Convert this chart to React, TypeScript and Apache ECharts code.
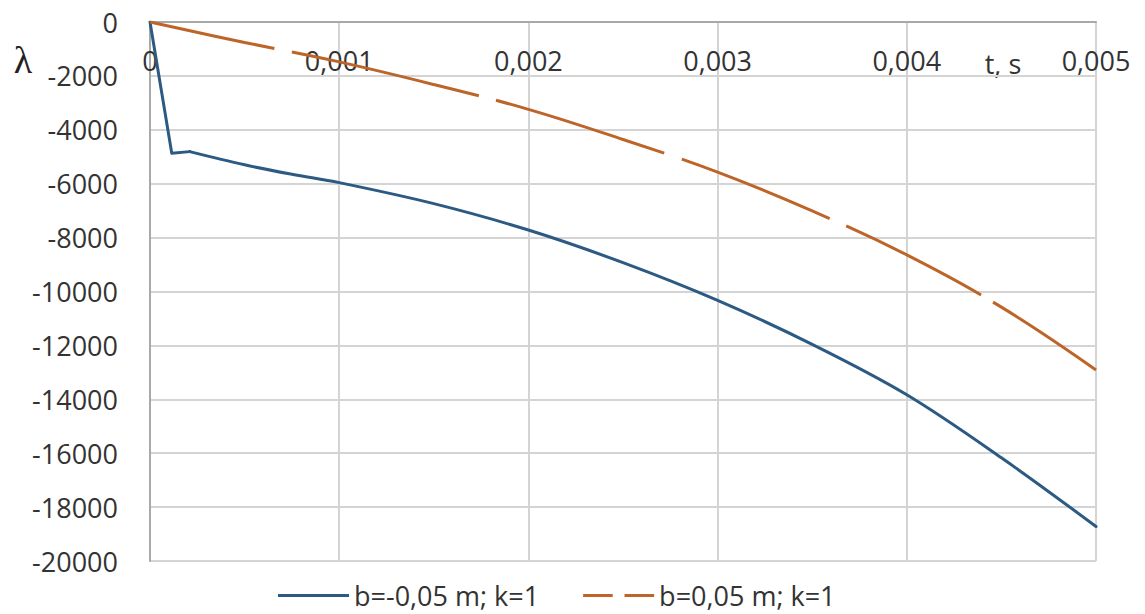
import React, { useEffect, useRef } from "react";
import * as echarts from "echarts";

const xTickLabels = ["0", "0,001", "0,002", "0,003", "0,004", "0,005"];
const seriesNames = ["b=-0,05 m; k=1", "b=0,05 m; k=1"];

const blueT = [0, 0.000115, 0.00021, 0.0005, 0.00075, 0.001, 0.0015, 0.002, 0.0025, 0.003, 0.0035, 0.004, 0.0045, 0.005];
const blueL = [0, -4870, -4810, -5300, -5650, -5960, -6740, -7720, -8930, -10330, -11960, -13830, -16170, -18720];
// the initial steep drop is drawn straight; the remainder is smoothed
const blueKinkIndex = 2;

const orangeT = [0, 0.0005, 0.001, 0.0015, 0.002, 0.0025, 0.003, 0.0035, 0.004, 0.0045, 0.005];
const orangeL = [0, -760, -1480, -2320, -3240, -4360, -5570, -7010, -8640, -10580, -12910];

const BLUE = "#2c5a83";
const ORANGE = "#bd6529";
const FONT = "'Open Sans', 'Liberation Sans', sans-serif";

export default function App() {
  const ref = useRef<HTMLDivElement>(null);
  useEffect(() => {
    document.body.style.margin = "0";
    const chart = echarts.init(ref.current!, null, { renderer: "svg" });
    const blueData = blueT.map((t, i) => [t, blueL[i]]);
    chart.setOption({
      animation: false,
      backgroundColor: "#ffffff",
      grid: { left: 150, right: 49, top: 22, bottom: 53, containLabel: false },
      xAxis: {
        type: "value",
        position: "top",
        min: 0,
        max: 0.005,
        interval: 0.001,
        axisLine: { show: true, lineStyle: { color: "#a9a9a9", width: 2 } },
        axisTick: { show: false },
        axisLabel: {
          inside: true,
          margin: 25,
          fontSize: 27,
          fontFamily: FONT,
          color: "#333333",
          formatter: (v: number) => xTickLabels[Math.round(v / 0.001)] ?? "",
        },
        splitLine: { show: true, lineStyle: { color: "#d4d4d4", width: 2 } },
      },
      yAxis: {
        type: "value",
        min: -20000,
        max: 0,
        interval: 2000,
        axisLine: { show: true, onZero: false, lineStyle: { color: "#a9a9a9", width: 2 } },
        axisTick: { show: false },
        axisLabel: {
          margin: 32,
          fontSize: 27,
          fontFamily: FONT,
          color: "#333333",
          formatter: (v: number) => String(v),
        },
        splitLine: { show: true, lineStyle: { color: "#d4d4d4", width: 2 } },
      },
      legend: {
        left: 273,
        top: 577,
        itemWidth: 71,
        itemHeight: 3,
        itemGap: 44,
        textStyle: { fontSize: 27, fontFamily: FONT, color: "#333333" },
        data: [
          { name: seriesNames[0], icon: "rect", itemStyle: { color: BLUE } },
          {
            name: seriesNames[1],
            icon: "path://M0 0H30V3H0Z M42 0H72V3H42Z",
            itemStyle: { color: ORANGE },
          },
        ],
      },
      graphic: [
        {
          type: "text",
          x: 23,
          y: 60,
          style: {
            text: "λ",
            font: "38px 'Liberation Serif', 'DejaVu Serif', serif",
            fill: "#222222",
            textAlign: "center",
            textVerticalAlign: "middle",
            align: "center",
            verticalAlign: "middle",
          },
        },
        {
          type: "text",
          x: 1003,
          y: 63,
          style: {
            text: "t, s",
            font: `27px ${FONT}`,
            fill: "#333333",
            textAlign: "center",
            textVerticalAlign: "middle",
            align: "center",
            verticalAlign: "middle",
          },
        },
      ],
      series: [
        {
          name: seriesNames[0],
          type: "line",
          symbol: "none",
          smooth: false,
          lineStyle: { color: BLUE, width: 3, join: "round", cap: "round" },
          itemStyle: { color: BLUE },
          data: blueData.slice(0, blueKinkIndex + 1),
        },
        {
          name: seriesNames[0],
          type: "line",
          symbol: "none",
          smooth: 0.35,
          lineStyle: { color: BLUE, width: 3, cap: "round" },
          itemStyle: { color: BLUE },
          data: blueData.slice(blueKinkIndex),
        },
        {
          name: seriesNames[1],
          type: "line",
          symbol: "none",
          smooth: 0.4,
          lineStyle: {
            color: ORANGE,
            width: 3,
            type: [127, 18, 192, 18, 176, 19, 159, 18, 152, 14, 400],
          },
          itemStyle: { color: ORANGE },
          data: orangeT.map((t, i) => [t, orangeL[i]]),
        },
      ],
    });
    return () => chart.dispose();
  }, []);
  return <div ref={ref} style={{ position: "fixed", left: 0, top: 0, width: 1145, height: 614 }} />;
}
